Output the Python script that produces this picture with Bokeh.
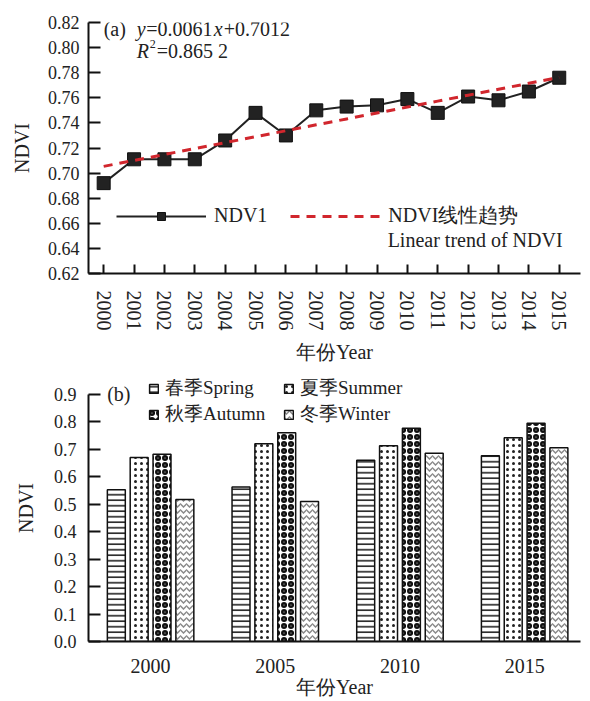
import numpy as np
from bokeh.plotting import figure
from bokeh.layouts import column
from bokeh.models import (FixedTicker, NumeralTickFormatter, Legend, LegendItem,
                          Label, Range1d, ColumnDataSource)
from bokeh.transform import dodge
from bokeh.embed import file_html
from bokeh.resources import INLINE

# ---------------- data ----------------
years_a = [2000, 2001, 2002, 2003, 2004, 2005, 2006, 2007,
           2008, 2009, 2010, 2011, 2012, 2013, 2014, 2015]
ndvi_a = [0.692, 0.711, 0.711, 0.711, 0.726, 0.748, 0.730, 0.750,
          0.753, 0.754, 0.759, 0.748, 0.761, 0.758, 0.765, 0.776]
y_ticks_a = [0.62, 0.64, 0.66, 0.68, 0.70, 0.72, 0.74, 0.76, 0.78, 0.80, 0.82]

years_b = [2000, 2005, 2010, 2015]
spring = [0.553, 0.563, 0.660, 0.677]
summer = [0.670, 0.720, 0.713, 0.742]
autumn = [0.682, 0.760, 0.777, 0.795]
winter = [0.517, 0.510, 0.686, 0.706]
y_ticks_b = [0.0, 0.1, 0.2, 0.3, 0.4, 0.5, 0.6, 0.7, 0.8, 0.9]

FONT = "Liberation Serif"
TXT = "#222222"


def style_axes(p, tick_size="18px"):
    for ax in (p.xaxis[0], p.yaxis[0]):
        ax.axis_line_width = 2
        ax.axis_line_color = "#111111"
        ax.major_tick_line_width = 2
        ax.major_tick_line_color = "#111111"
        ax.minor_tick_line_color = None
        ax.major_tick_out = 0
        ax.major_label_text_font = FONT
        ax.major_label_text_font_size = tick_size
        ax.major_label_text_color = TXT
        ax.axis_label_text_font = FONT
        ax.axis_label_text_font_size = "20px"
        ax.axis_label_text_font_style = "normal"
        ax.axis_label_text_color = TXT
    p.xgrid.visible = False
    p.ygrid.visible = False
    p.outline_line_color = None
    p.background_fill_color = "white"
    p.border_fill_color = "white"


# ---------------- figure (a) ----------------
p1 = figure(width=590, height=370, x_range=Range1d(1999.5, 2015.7),
            y_range=Range1d(0.62, 0.82), output_backend="svg",
            toolbar_location=None, min_border_left=88, min_border_right=10,
            min_border_top=22, min_border_bottom=97)
style_axes(p1)
p1.xaxis.ticker = FixedTicker(ticks=years_a)
p1.xaxis.major_label_orientation = "vertical"
p1.xaxis.major_tick_in = 9
p1.xaxis.major_label_standoff = 17
p1.xaxis.major_label_text_font_size = "20px"
p1.xaxis.axis_label = "年份Year"
p1.xaxis.axis_label_standoff = 7
p1.yaxis.ticker = FixedTicker(ticks=y_ticks_a)
p1.yaxis.formatter = NumeralTickFormatter(format="0.00")
p1.yaxis.major_tick_in = 12
p1.yaxis.major_label_standoff = 9
p1.yaxis.axis_label = "NDVI"
p1.yaxis.axis_label_standoff = 12

l1 = p1.line(years_a, ndvi_a, line_color="#222222", line_width=2)
s1 = p1.scatter(years_a, ndvi_a, marker="square", size=13,
                fill_color="#222222", line_color="#111111")
coef = np.polyfit(years_a, ndvi_a, 1)
trend = np.polyval(coef, years_a)
t1 = p1.line(years_a, trend, line_color="#d1262d", line_width=3,
             line_dash="9 7")

leg1 = Legend(items=[LegendItem(label="NDV1", renderers=[l1, s1]),
                     LegendItem(label="NDVI线性趋势", renderers=[t1])],
              orientation="horizontal", location=(28, 44), glyph_width=90,
              glyph_height=20, label_height=20, label_standoff=8, spacing=23,
              padding=0, margin=0, border_line_alpha=0,
              background_fill_alpha=0, label_text_font=FONT,
              label_text_font_size="20px", label_text_color=TXT)
p1.add_layout(leg1)


def lab(p, text, x, y, dx=0, dy=0, size="20px", style="normal"):
    p.add_layout(Label(x=x, y=y, x_offset=dx, y_offset=dy, text=text,
                       text_font=FONT, text_font_size=size,
                       text_font_style=style, text_color=TXT,
                       text_baseline="middle", text_align="left"))


lab(p1, "Linear trend of NDVI", 2009.35, 0.6463)
# equation
ex, ey = 2000.0, 0.815
lab(p1, "(a)", ex, ey)
lab(p1, "y", ex, ey, dx=33, style="italic")
lab(p1, "=0.0061", ex, ey, dx=42.5)
lab(p1, "x", ex, ey, dx=110, style="italic")
lab(p1, "+0.7012", ex, ey, dx=120)
ry = 0.7975
lab(p1, "R", ex, ry, dx=33, style="italic")
lab(p1, "2", ex, ry, dx=46, dy=7, size="12px")
lab(p1, "=0.865 2", ex, ry, dx=53)

# ---------------- figure (b) ----------------
p2 = figure(width=590, height=330, x_range=Range1d(1997.51, 2017.24),
            y_range=Range1d(0.0, 0.9726), output_backend="svg",
            toolbar_location=None, min_border_left=88, min_border_right=0,
            min_border_top=4, min_border_bottom=58)
style_axes(p2)
p2.xaxis.ticker = FixedTicker(ticks=years_b)
p2.xaxis.major_tick_in = 0
p2.xaxis.major_label_standoff = 17
p2.xaxis.major_label_text_font_size = "20px"
p2.xaxis.axis_label = "年份Year"
p2.xaxis.axis_label_standoff = 0
p2.yaxis.ticker = FixedTicker(ticks=y_ticks_b)
p2.yaxis.bounds = (0.0, 0.9)
p2.yaxis.formatter = NumeralTickFormatter(format="0.0")
p2.yaxis.major_tick_in = 12
p2.yaxis.major_label_standoff = 12
p2.yaxis.axis_label = "NDVI"
p2.yaxis.axis_label_standoff = 14

src = ColumnDataSource(dict(year=years_b, spring=spring, summer=summer,
                            autumn=autumn, winter=winter))
bw = 0.72
common = dict(source=src, width=bw, fill_color="white",
              line_color="#111111", line_width=1.5)
r_sp = p2.vbar(x=dodge("year", -1.374, range=p2.x_range), top="spring",
               hatch_pattern="horizontal_line", hatch_color="#111111",
               hatch_weight=1.5, hatch_scale=5.5, **common)
r_su = p2.vbar(x=dodge("year", -0.458, range=p2.x_range), top="summer",
               hatch_pattern="dot", hatch_color="#222222",
               hatch_weight=1, hatch_scale=6, **common)
r_au = p2.vbar(x=dodge("year", 0.458, range=p2.x_range), top="autumn",
               hatch_pattern="ring", hatch_color="#111111",
               hatch_weight=2.5, hatch_scale=7, **common)
r_wi = p2.vbar(x=dodge("year", 1.374, range=p2.x_range), top="winter",
               hatch_pattern="horizontal_wave", hatch_color="#8a8a8a",
               hatch_weight=1.5, hatch_scale=6, **common)

leg2 = Legend(items=[LegendItem(label="春季Spring", renderers=[r_sp]),
                     LegendItem(label="夏季Summer", renderers=[r_su]),
                     LegendItem(label="秋季Autumn", renderers=[r_au]),
                     LegendItem(label="冬季Winter", renderers=[r_wi])],
              orientation="horizontal", ncols=2, location=(60, 214),
              glyph_width=11, glyph_height=11, label_height=20,
              label_width=118, label_standoff=6, spacing=0, padding=0,
              margin=0, border_line_alpha=0, background_fill_alpha=0,
              label_text_font=FONT, label_text_font_size="19px",
              label_text_color=TXT)
p2.add_layout(leg2)
lab(p2, "(b)", 1998.26, 0.9)

layout = column(p1, p2)
open("out.html", "w").write(file_html(layout, INLINE))
